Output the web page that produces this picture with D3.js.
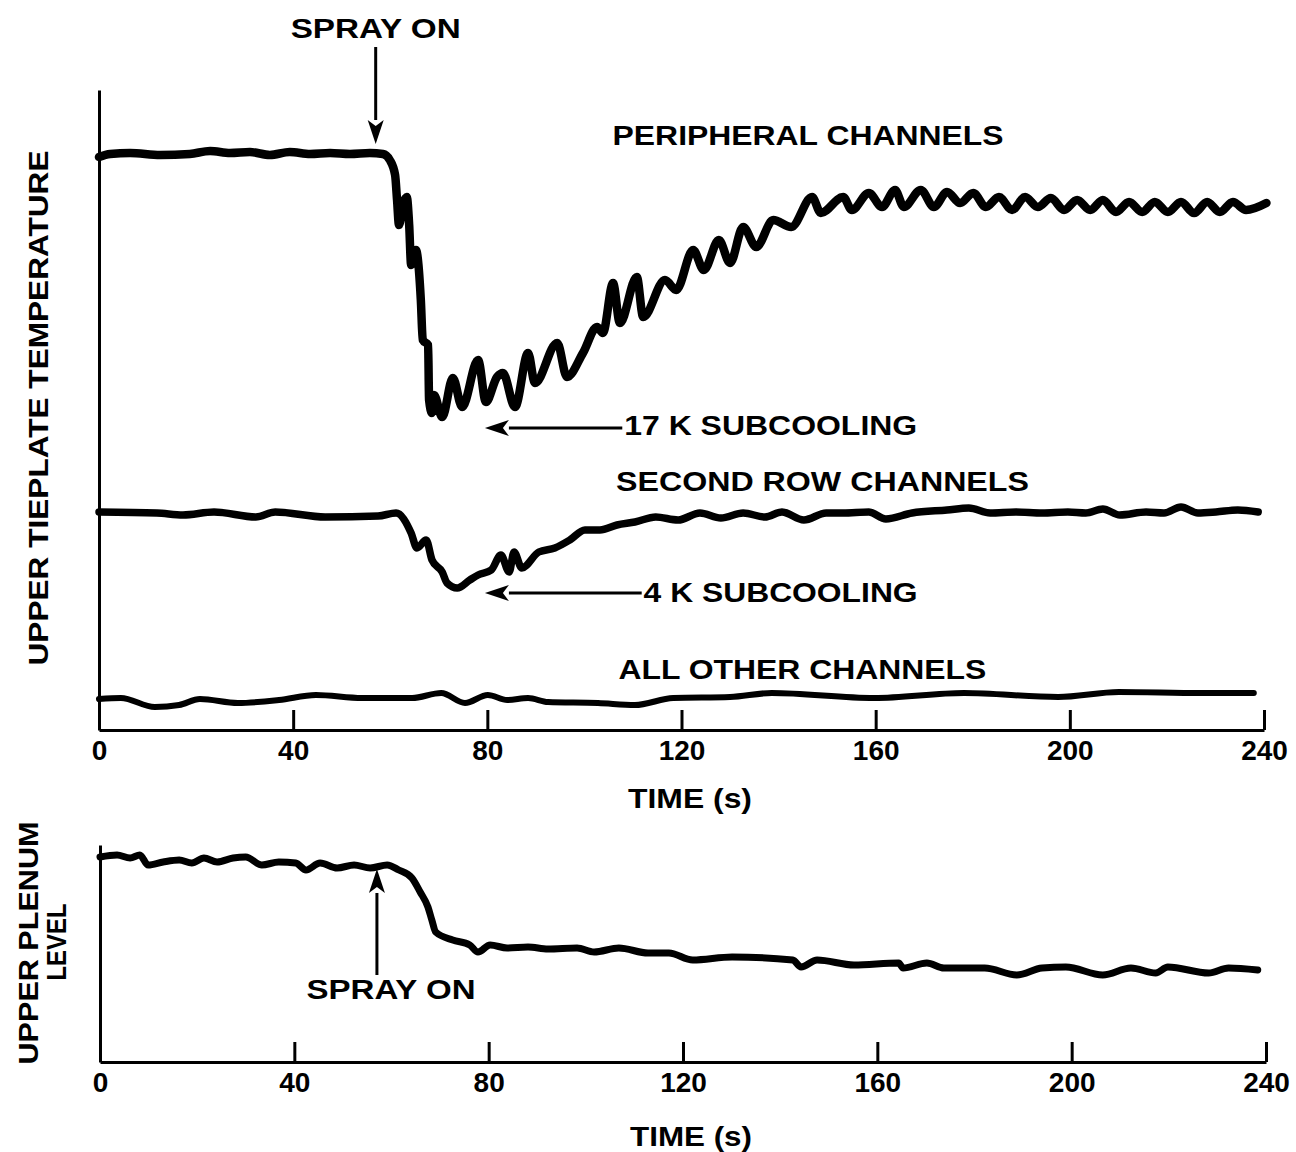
<!DOCTYPE html>
<html>
<head>
<meta charset="utf-8">
<script src="https://cdn.jsdelivr.net/npm/d3@7"></script>
<style>
  body { margin: 0; background: #fff; }
  svg { display: block; }
  text { font-family: "Liberation Sans", Arial, sans-serif; font-weight: bold; fill: #000; }
</style>
</head>
<body>
<div id="canvas"></div>
<script>
// time ticks (s)
var timeTicks = [0, 40, 80, 120, 160, 200, 240];

// upper tieplate temperature, relative units (no scale on the original)
var peripheral = [
  [0,573],[2.3,576],[6.4,577],[12.6,575],[18.7,576],[22.9,579],[27,577],[31.1,578],[35.2,575],
  [39.3,578],[43.5,576],[47.6,577],[51.7,576],[55.8,577],[58.5,576],[59.9,570],[61,555],
  [61.4,530],[61.8,505],[62.6,525],[63.4,533],[63.9,505],[64.3,465],[65.3,480],[65.9,460],
  [66.3,430],[66.7,390],[67.8,385],[68,330],[68.6,317],[69,335],[70.7,313],[72.9,352],
  [74.8,323],[78.1,370],[79.7,328],[82,353],[83.2,357],[85.7,323],[88.4,377],[89.8,347],
  [94.4,387],[96.4,353],[99.7,377],[102.6,403],[103.8,397],[105.9,447],[107.3,407],[110.8,453],
  [112.1,413],[116.6,450],[118.9,440],[122.4,480],[124.6,460],[127.7,490],[130,467],[132.7,503],
  [135.4,483],[138.9,510],[142.6,503],[146.9,533],[148.7,517],[153.3,533],[155.1,520],[158.6,537],
  [161.3,523],[164,540],[165.8,523],[169.3,540],[172,523],[174.7,538],[177.4,527],[180.1,537],
  [182.7,523],[185.4,533],[188.1,520],[190.8,533],[193.4,523],[196.1,532],[198.8,520],[201.5,530],
  [204.2,520],[206.8,530],[209.5,518],[212.2,528],[214.9,518],[217.5,528],[220.2,518],[222.9,528],
  [225.6,517],[228.3,528],[230.9,518],[233.6,528],[236.3,520],[240.5,527]
];

var secondRow = [
  [0,218],[11.9,217],[17.3,215],[23.7,218],[32.3,213],[36.3,218],[46.6,213],[57.5,214],[61.2,217],
  [64.3,197],[65.5,182],[67.4,190],[68.6,170],[70.7,158],[71.7,147],[73.8,142],[76.4,150],
  [78.1,155],[80.8,160],[82.8,175],[84.5,158],[85.5,178],[87.1,162],[90.6,178],[93.9,182],
  [97,190],[100.1,200],[103.2,200],[106.7,205],[110.4,208],[114.7,213],[119.3,210],[123.8,217],
  [128.1,212],[132.7,217],[137.2,213],[140.7,218],[145.2,210],[149.8,217],[153.3,217],[158.6,218],
  [162.1,211],[167.5,217],[174.7,220],[179.2,222],[183.6,217],[188.9,218],[194.3,217],[199.6,218],
  [203.3,217],[206.8,221],[210.3,215],[215.7,218],[219.4,217],[222.9,223],[226.4,217],[230.1,218],
  [234.6,220],[238.8,218]
];

var allOther = [
  [0,31],[4.5,32],[11.5,23],[16.5,25],[20.8,31],[28.6,27],[37.1,30],[44.7,35],[54.2,32],[64.5,32],
  [70.5,37],[75.4,27],[80.1,35],[84.1,30],[88.4,32],[92.5,28],[102.8,27],[110.4,25],[118.3,32],
  [130,33],[138.6,37],[159.7,32],[178.2,37],[197.6,33],[210.1,38],[227,37],[237.9,37]
];

// upper plenum level, relative units
var plenum = [
  [0,205],[3.5,207],[6.2,204],[8.2,207],[9.9,197],[13,200],[16.3,202],[18.9,199],[21.4,204],
  [24.1,200],[27.4,204],[30,205],[33.3,197],[36.8,200],[40.3,199],[42.4,192],[45.3,199],[48.8,194],
  [52.3,197],[55.6,194],[59.1,197],[61.5,192],[64.2,184],[65.9,170],[67.5,155],[68.3,142],
  [69.1,130],[72.6,122],[76.1,117],[77.8,110],[80.3,117],[83.8,114],[88.1,115],[92.2,113],
  [98.2,114],[101.7,110],[106.8,114],[112.8,109],[117.1,109],[122,102],[130.1,105],[142.6,102],
  [144.3,95],[147.6,102],[155.2,97],[164.4,99],[165.3,94],[170.2,99],[173.7,94],[182.1,94],
  [188.7,87],[193.9,94],[198.8,95],[206.4,87],[212.2,94],[217.3,89],[219.8,95],[228.2,89],
  [232.3,94],[238.3,92]
];

// annotations: [text, time, value, width]
var topLabels = [
  ['PERIPHERAL CHANNELS', 105.8, 585, 391],
  ['SECOND ROW CHANNELS', 106.5, 239, 413],
  ['ALL OTHER CHANNELS', 107, 51, 368]
];
var sprayTime = 57;

var W = 1296, H = 1152;
var svg = d3.select('#canvas').append('svg')
    .attr('width', W).attr('height', H);

var xTop = d3.scaleLinear().domain([0, 240]).range([99, 1264]);
var yTop = d3.scaleLinear().domain([0, 640]).range([730, 90]);
var xBot = d3.scaleLinear().domain([0, 240]).range([100, 1266]);
var yBot = d3.scaleLinear().domain([0, 217]).range([1062, 845]);

function drawAxes(x, y) {
    var ax = svg.append('g')
        .attr('transform', 'translate(0,' + y.range()[0] + ')')
        .call(d3.axisBottom(x).tickValues(timeTicks)
            .tickSizeInner(-20).tickSizeOuter(0).tickPadding(10));
    ax.selectAll('path, line').attr('stroke', '#000').attr('stroke-width', 3);
    ax.selectAll('text').attr('font-size', 28).attr('font-family', null);
    svg.append('g')
        .attr('transform', 'translate(' + x.range()[0] + ',0)')
        .call(d3.axisLeft(y).tickValues([]).tickSizeOuter(0))
        .select('path').attr('stroke', '#000').attr('stroke-width', 3);
}
drawAxes(xTop, yTop);
drawAxes(xBot, yBot);

function drawLine(data, x, y, sw) {
    var line = d3.line()
        .x(function(d){ return x(d[0]); })
        .y(function(d){ return y(d[1]); })
        .curve(d3.curveMonotoneX);
    svg.append('path')
        .datum(data)
        .attr('d', line)
        .attr('fill', 'none')
        .attr('stroke', '#000')
        .attr('stroke-width', sw)
        .attr('stroke-linejoin', 'round')
        .attr('stroke-linecap', 'round');
}
drawLine(peripheral, xTop, yTop, 8.5);
drawLine(secondRow, xTop, yTop, 7.5);
drawLine(allOther, xTop, yTop, 6);
drawLine(plenum, xBot, yBot, 7);

function label(str, x, y, len, anchor) {
    svg.append('text')
        .attr('x', x).attr('y', y)
        .attr('font-size', 27)
        .attr('text-anchor', anchor || 'start')
        .attr('textLength', len)
        .attr('lengthAdjust', 'spacingAndGlyphs')
        .text(str);
}
// line with a filled head at (x2,y2)
function arrow(x1, y1, x2, y2) {
    var a = Math.atan2(y2 - y1, x2 - x1), L = 24, hw = 8;
    var bx = x2 - L * Math.cos(a), by = y2 - L * Math.sin(a);
    svg.append('line')
        .attr('x1', x1).attr('y1', y1).attr('x2', bx).attr('y2', by)
        .attr('stroke', '#000').attr('stroke-width', 3);
    var px = -Math.sin(a) * hw, py = Math.cos(a) * hw;
    var nx = x2 - 0.75 * L * Math.cos(a), ny = y2 - 0.75 * L * Math.sin(a);
    svg.append('path')
        .attr('d', 'M' + x2 + ',' + y2 +
            'L' + (bx + px) + ',' + (by + py) +
            'L' + nx + ',' + ny +
            'L' + (bx - px) + ',' + (by - py) + 'Z')
        .attr('fill', '#000');
}

topLabels.forEach(function(d){
    label(d[0], xTop(d[1]), yTop(d[2]), d[3]);
});

// spray on (top)
label('SPRAY ON', xTop(sprayTime), 38, 170, 'middle');
arrow(xTop(sprayTime), 47, xTop(sprayTime), 144);

// subcooling arrows
label('17 K SUBCOOLING', xTop(108.2), yTop(295), 293);
arrow(xTop(107.8), yTop(302), xTop(79.5), yTop(302));
label('4 K SUBCOOLING', xTop(112.2), yTop(128), 274);
arrow(xTop(111.8), yTop(137), xTop(79.5), yTop(137));

// time labels
label('TIME (s)', 690, 808, 124, 'middle');
label('TIME (s)', 691, 1146, 122, 'middle');

// spray on (bottom)
label('SPRAY ON', 391, 999, 169, 'middle');
arrow(xBot(sprayTime), 975, xBot(sprayTime), 869);

// y labels
svg.append('text')
    .attr('transform', 'translate(48,408) rotate(-90)')
    .attr('text-anchor', 'middle')
    .attr('font-size', 28)
    .attr('textLength', 515).attr('lengthAdjust', 'spacingAndGlyphs')
    .text('UPPER TIEPLATE TEMPERATURE');
svg.append('text')
    .attr('transform', 'translate(38,943) rotate(-90)')
    .attr('text-anchor', 'middle')
    .attr('font-size', 28)
    .attr('textLength', 243).attr('lengthAdjust', 'spacingAndGlyphs')
    .text('UPPER PLENUM');
svg.append('text')
    .attr('transform', 'translate(66,942) rotate(-90)')
    .attr('text-anchor', 'middle')
    .attr('font-size', 28)
    .attr('textLength', 77).attr('lengthAdjust', 'spacingAndGlyphs')
    .text('LEVEL');
</script>
</body>
</html>
